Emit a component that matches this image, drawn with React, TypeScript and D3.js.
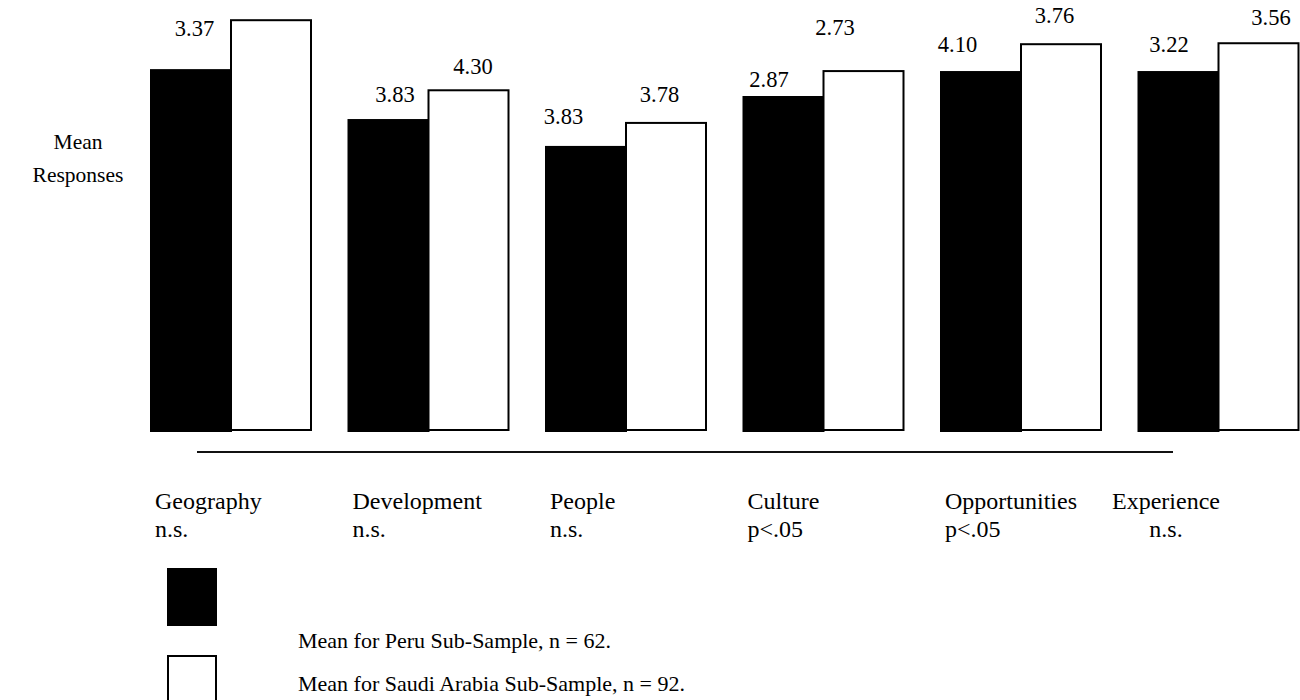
import React from "react";
import * as d3 from "d3";

// ---- Data ----
const categories = ["Geography", "Development", "People", "Culture", "Opportunities", "Experience"];
const significance = ["n.s.", "n.s.", "n.s.", "p<.05", "p<.05", "n.s."];
// Printed mean labels
const peruLabels = ["3.37", "3.83", "3.83", "2.87", "4.10", "3.22"];
const saudiLabels = [null, "4.30", "3.78", "2.73", "3.76", "3.56"];
// Bar heights as drawn in the original figure (they do not follow the printed labels)
const peruBarHeights = [3.78, 3.26, 2.98, 3.5, 3.76, 3.76];
const saudiBarHeights = [4.3, 3.57, 3.23, 3.77, 4.05, 4.06];
const legendLabels = ["Mean for Peru Sub-Sample, n = 62.", "Mean for Saudi Arabia Sub-Sample, n = 92."];
const yAxisTitle = ["Mean", "Responses"];

// ---- Layout constants ----
const W = 1300;
const H = 700;
const FONT = "Liberation Serif";
const baseY = 432;
const groupStart = 150;
const groupStep = 197.5;
// label nudges [dx, dy] for the printed values (peru, saudi)
const peruNudge = [[4, -15], [7, 1], [-22, -4], [-14, 9], [-23, -1], [-9, -1]];
const saudiNudge = [[0, 0], [4, 3], [-7, -2], [-29, -17], [-7, -2], [12, 1]];

export default function App() {
  const x = d3
    .scaleBand<string>()
    .domain(categories)
    .range([groupStart, groupStart + groupStep * categories.length])
    .paddingInner(0)
    .paddingOuter(0);
  const inner = d3.scaleBand<string>().domain(["peru", "saudi"]).range([0, 162]);
  const y = d3.scaleLinear().domain([0, 4.5]).range([baseY, 0]);
  const bw = inner.bandwidth();
  const txt = { fontFamily: FONT, fill: "#000" } as React.CSSProperties;

  return (
    <svg
      width={W}
      height={H}
      style={{ position: "absolute", left: 0, top: 0, background: "#fff" }}
    >
      <rect x={0} y={0} width={W} height={H} fill="#fff" />
      {/* y axis title */}
      {yAxisTitle.map((t, i) => (
        <text key={t} x={78} y={149 + i * 33} fontSize={21.5} textAnchor="middle" style={txt}>
          {t}
        </text>
      ))}

      {categories.map((c, i) => {
        const gx = x(c) as number;
        const px = gx + (inner("peru") as number);
        const sx = gx + (inner("saudi") as number);
        const pTop = y(peruBarHeights[i]);
        const sTop = y(saudiBarHeights[i]);
        const last = i === categories.length - 1;
        return (
          <g key={c}>
            <rect x={px} y={pTop} width={bw + 1} height={baseY - pTop} fill="#000" />
            <rect
              x={sx}
              y={sTop + 1}
              width={bw - 1}
              height={baseY - 2 - (sTop + 1)}
              fill="#fff"
              stroke="#000"
              strokeWidth={2}
            />
            {peruLabels[i] && (
              <text
                x={px + bw / 2 + peruNudge[i][0]}
                y={pTop - 18 + peruNudge[i][1]}
                fontSize={22.5}
                textAnchor="middle"
                style={txt}
              >
                {peruLabels[i]}
              </text>
            )}
            {saudiLabels[i] && (
              <text
                x={sx + bw / 2 + saudiNudge[i][0]}
                y={sTop - 18 + saudiNudge[i][1]}
                fontSize={22.5}
                textAnchor="middle"
                style={txt}
              >
                {saudiLabels[i]}
              </text>
            )}
            <text
              x={last ? gx + 28.5 : gx + 5}
              y={509}
              fontSize={24}
              textAnchor={last ? "middle" : "start"}
              style={txt}
            >
              {c}
            </text>
            <text
              x={last ? gx + 28.5 : gx + 5}
              y={537}
              fontSize={24}
              textAnchor={last ? "middle" : "start"}
              style={txt}
            >
              {significance[i]}
            </text>
          </g>
        );
      })}

      {/* baseline rule */}
      <line x1={197} x2={1173} y1={452} y2={452} stroke="#111" strokeWidth={2} />

      {/* legend */}
      <rect x={167} y={568} width={50} height={58} fill="#000" />
      <rect x={168} y={656} width={48} height={58} fill="#fff" stroke="#000" strokeWidth={2} />
      {legendLabels.map((t, i) => (
        <text key={t} x={298} y={648 + i * 43} fontSize={22} style={txt}>
          {t}
        </text>
      ))}
    </svg>
  );
}
